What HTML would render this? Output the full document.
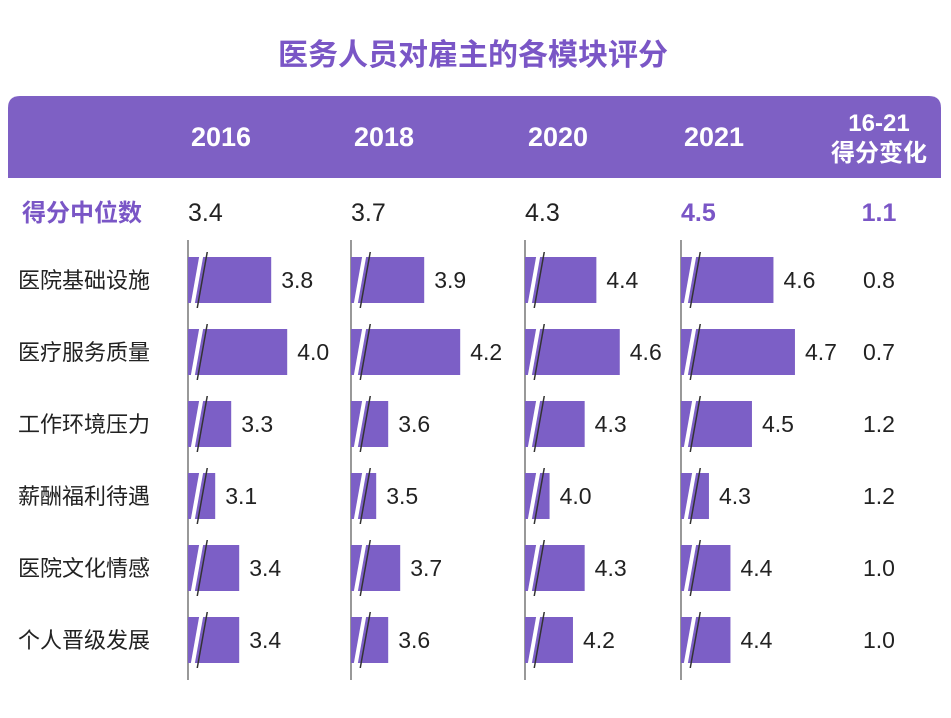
<!DOCTYPE html>
<html><head><meta charset="utf-8"><style>
body{margin:0;background:#fff;}
svg{display:block;font-family:"Liberation Sans","Noto Sans CJK SC",sans-serif;}
</style></head><body>
<svg id="c" width="951" height="718">
<text x="473" y="65" text-anchor="middle" font-size="30" font-weight="bold" fill="#7a56c6">医务人员对雇主的各模块评分</text>
<path d="M8,108 Q8,96 20,96 L929,96 Q941,96 941,108 L941,178 L8,178 Z" fill="#7e60c4"/>
<g id="hdr"></g>
<g id="body"></g>
</svg>
<script>
const categories=["医院基础设施","医疗服务质量","工作环境压力","薪酬福利待遇","医院文化情感","个人晋级发展"];
const years=["2016","2018","2020","2021"];
const medians=["3.4","3.7","4.3","4.5"];
const medianChange="1.1";
const v2016=[3.8,4.0,3.3,3.1,3.4,3.4];
const v2018=[3.9,4.2,3.6,3.5,3.7,3.6];
const v2020=[4.4,4.6,4.3,4.0,4.3,4.2];
const v2021=[4.6,4.7,4.5,4.3,4.4,4.4];
const changes=["0.8","0.7","1.2","1.2","1.0","1.0"];
const series=[v2016,v2018,v2020,v2021];
const NS="http://www.w3.org/2000/svg";
const colX=[188,351,525,681];
const bases=[2.76,3.29,3.79,4.17];
const slopes=[80,120,117,215];
function mk(t,a,p){const e=document.createElementNS(NS,t);for(const k in a)e.setAttribute(k,a[k]);p.appendChild(e);return e;}
const hdr=document.getElementById('hdr'),body=document.getElementById('body');
years.forEach((y,i)=>{const t=mk('text',{x:colX[i]+33,y:146,'text-anchor':'middle','font-size':27,'font-weight':'bold',fill:'#fff'},hdr);t.textContent=y;

});
let t=mk('text',{x:879,y:131,'text-anchor':'middle','font-size':24,'font-weight':'bold',fill:'#fff'},hdr);t.textContent="16-21";


t=mk('text',{x:879,y:161,'text-anchor':'middle','font-size':24,'font-weight':'bold',fill:'#fff'},hdr);t.textContent="得分变化";


t=mk('text',{x:22,y:221,'font-size':24,'font-weight':'bold',fill:'#7a56c6'},body);t.textContent="得分中位数";


medians.forEach((m,i)=>{const last=i==3;const tt=mk('text',{x:colX[i],y:221,'font-size':25,'font-weight':last?'bold':'normal',fill:last?'#7a56c6':'#222'},body);tt.textContent=m;

});
t=mk('text',{x:879,y:221,'text-anchor':'middle','font-size':25,'font-weight':'bold',fill:'#7a56c6'},body);t.textContent=medianChange;


colX.forEach((x,i)=>{const l=mk('line',{x1:x,y1:240,x2:x,y2:680,stroke:'#555','stroke-width':1.2},body);

});
categories.forEach((c,r)=>{const cy=280+r*72;
const lt=mk('text',{x:18,y:cy+8,'font-size':22,fill:'#222'},body);lt.textContent=c;


series.forEach((s,i)=>{const w=(s[r]-bases[i])*slopes[i];const x=colX[i];
const b=mk('rect',{x:x,y:cy-23,width:w,height:46,fill:'#7c5fc6'},body);


const sl=mk('polygon',{points:`${x+12},${cy-28} ${x+16},${cy-28} ${x+6},${cy+28} ${x+2},${cy+28}`,fill:'#fff'},body);


const sl2=mk('polygon',{points:`${x+18.5},${cy-28} ${x+20},${cy-28} ${x+10},${cy+28} ${x+8.5},${cy+28}`,fill:'#333'},body);


const vt=mk('text',{x:x+w+10,y:cy+8,'font-size':23,fill:'#222'},body);vt.textContent=s[r].toFixed(1);

});
const ct=mk('text',{x:879,y:cy+8,'text-anchor':'middle','font-size':23,fill:'#222'},body);ct.textContent=changes[r];

});
</script>
</body></html>
